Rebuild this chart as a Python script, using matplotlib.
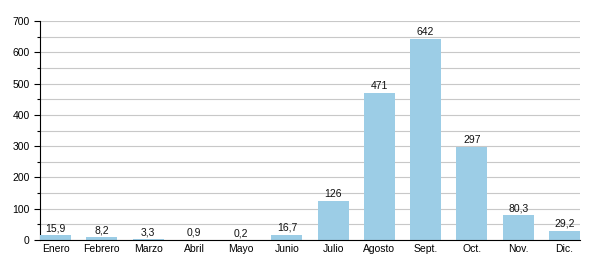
import matplotlib
matplotlib.use("Agg")
import matplotlib.pyplot as plt
from matplotlib.ticker import MultipleLocator

months = ["Enero", "Febrero", "Marzo", "Abril", "Mayo", "Junio", "Julio",
          "Agosto", "Sept.", "Oct.", "Nov.", "Dic."]
values = [15.9, 8.2, 3.3, 0.9, 0.2, 16.7, 126, 471, 642, 297, 80.3, 29.2]
labels = ["15,9", "8,2", "3,3", "0,9", "0,2", "16,7", "126", "471", "642", "297", "80,3", "29,2"]

plt.rcParams['font.family'] = ['Liberation Sans', 'DejaVu Sans']
fig = plt.figure(figsize=(6, 2.8), dpi=100)
ax = fig.add_axes([40/600, 40/280, 540/600, 219/280])

x = list(range(len(months)))
ax.bar(x, values, width=0.67, color="#9ccde6", zorder=3)
for xi, v, lab in zip(x, values, labels):
    ax.text(xi, v + 6, lab, ha="center", va="bottom", fontsize=7.5, color="#111111", zorder=4)

ax.set_xlim(-0.335, 11.335)
ax.set_ylim(0, 700)
ax.yaxis.set_major_locator(MultipleLocator(100))
ax.yaxis.set_minor_locator(MultipleLocator(50))
ax.grid(axis="y", which="both", color="#c8c8c8", linewidth=0.8, zorder=0)
ax.set_xticks(x)
ax.set_xticklabels(months, fontsize=7.5)
ax.tick_params(axis="x", length=0, pad=3)
ax.tick_params(axis="y", which="major", length=4, labelsize=7.5, width=0.8)
ax.tick_params(axis="y", which="minor", length=2, width=0.8)
for s in ["top", "right"]:
    ax.spines[s].set_visible(False)
ax.spines["left"].set_linewidth(0.8)
ax.spines["bottom"].set_linewidth(0.8)
ax.spines["bottom"].set_zorder(5)

fig.savefig("out.png", dpi=100)
